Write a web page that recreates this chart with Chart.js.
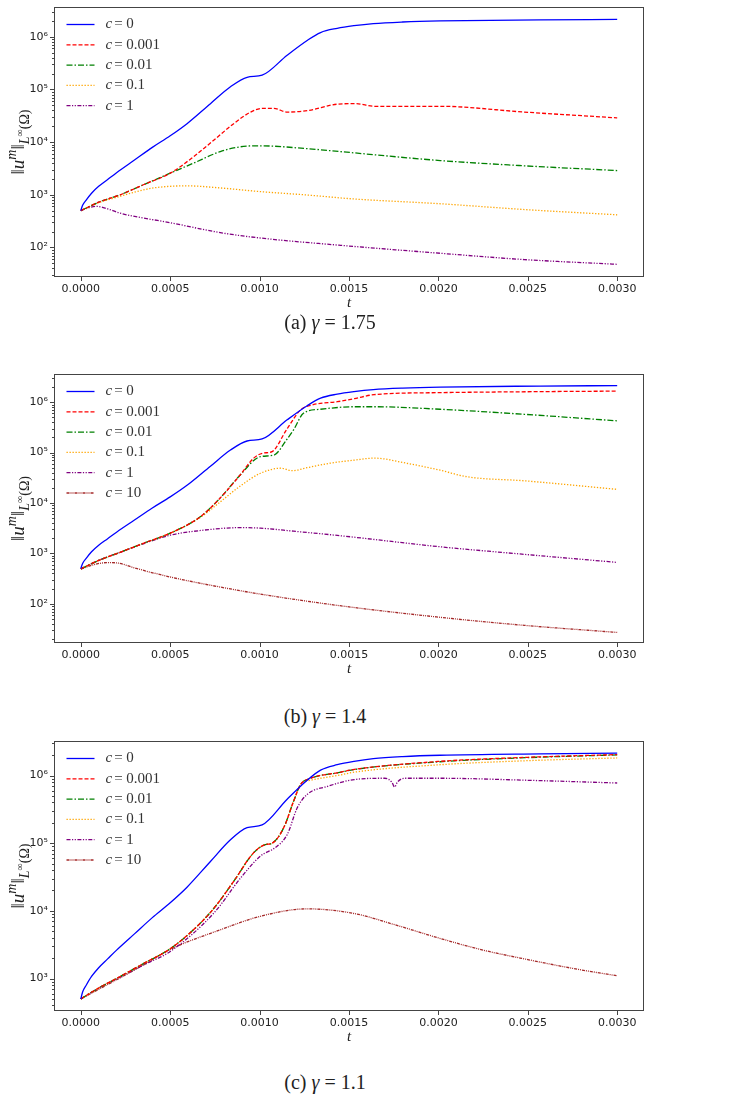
<!DOCTYPE html>
<html>
<head>
<meta charset="utf-8">
<script src="https://cdn.jsdelivr.net/npm/chart.js@4.4.0/dist/chart.umd.min.js"></script>
<style>
body { margin: 0; background: #fff; width: 743px; height: 1117px; position: relative; overflow: hidden; }
canvas { position: absolute; left: 0; }
.cap { position: absolute; font-family: "Liberation Serif", "DejaVu Serif", serif; font-size: 20px; color: #222;
       white-space: nowrap; transform: translate(-50%, -50%); }
</style>
</head>
<body>
<canvas id="chartA" width="743" height="330" style="top:-10px"></canvas>
<canvas id="chartB" width="743" height="320" style="top:360px"></canvas>
<canvas id="chartC" width="743" height="320" style="top:728px"></canvas>
<div class="cap" style="left:330px;top:322px">(a) <i>γ</i> = 1.75</div>
<div class="cap" style="left:325px;top:716px">(b) <i>γ</i> = 1.4</div>
<div class="cap" style="left:325px;top:1082px">(c) <i>γ</i> = 1.1</div>
<script>
// ---- data (t in seconds, values of ||u^m||) ----
var xTicks = [0, 0.0005, 0.001, 0.0015, 0.002, 0.0025, 0.003];
var xTickLabels = ["0.0000", "0.0005", "0.0010", "0.0015", "0.0020", "0.0025", "0.0030"];
var yTicksA = [1e2, 1e3, 1e4, 1e5, 1e6];
var yTicksB = [1e2, 1e3, 1e4, 1e5, 1e6];
var yTicksC = [1e3, 1e4, 1e5, 1e6];
var labelsA = ["0", "0.001", "0.01", "0.1", "1"];
var labelsBC = ["0", "0.001", "0.01", "0.1", "1", "10"];

// c = 0 (same in every panel)
var tBlue = [0, 0.00001, 0.00003, 0.00006, 0.0001, 0.00015, 0.0002, 0.0003, 0.0004, 0.0005, 0.000594, 0.000725, 0.000837, 0.00093, 0.001014, 0.001154, 0.001266, 0.001341, 0.001434, 0.001528, 0.001636, 0.0018, 0.00201, 0.00257, 0.003];
var blue = [500, 631, 794, 1072, 1445, 1950, 2630, 4571, 7943, 13183, 22387, 53703, 112202, 169824, 186209, 446684, 851138, 1202264, 1445440, 1621810, 1778279, 1905461, 1995262, 2089296, 2137962];

// (a) gamma = 1.75
var tRedA = [0, 0.0001, 0.00022, 0.00035, 0.0005, 0.00063, 0.000745, 0.000855, 0.00095, 0.001015, 0.00108, 0.001155, 0.00127, 0.001435, 0.00154, 0.00164, 0.00201, 0.00248, 0.003];
var redA = [500, 724, 1000, 1549, 2570, 5248, 10965, 22387, 37154, 43652, 43652, 37154, 39811, 52481, 53703, 47863, 47863, 37154, 28840];
var tGreenA = [0, 0.0001, 0.00022, 0.00035, 0.0005, 0.00063, 0.00078, 0.00089, 0.001005, 0.00125, 0.00145, 0.00201, 0.00248, 0.003];
var greenA = [500, 724, 1000, 1549, 2570, 3981, 6607, 8128, 8511, 7586, 6607, 4467, 3548, 2884];
var tOrangeA = [0, 0.0001, 0.00022, 0.0003, 0.000407, 0.000594, 0.00078, 0.001005, 0.00125, 0.00153, 0.00201, 0.00248, 0.003];
var orangeA = [500, 708, 933, 1122, 1349, 1479, 1349, 1148, 1000, 832, 676, 525, 417];
var tPurpleA = [0, 0.00005, 0.00009, 0.00015, 0.00022, 0.00035, 0.0005, 0.00078, 0.001005, 0.00145, 0.00201, 0.00248, 0.003];
var purpleA = [500, 575, 603, 540, 447, 363, 295, 191, 151, 110, 77.6, 58.9, 47.9];

// (b) gamma = 1.4
var tRedB = [0, 0.0001, 0.00022, 0.00035, 0.0005, 0.00067, 0.00078, 0.00089, 0.000967, 0.00102, 0.00107, 0.00115, 0.00123, 0.0013, 0.001435, 0.00153, 0.00164, 0.00201, 0.00257, 0.003];
var redB = [490, 724, 1047, 1585, 2512, 5370, 12589, 35481, 77625, 97724, 104713, 281838, 707946, 891251, 1023293, 1174898, 1412538, 1548817, 1621810, 1659587];
var tGreenB = [0, 0.0001, 0.00022, 0.00035, 0.0005, 0.00067, 0.00078, 0.00089, 0.001005, 0.00108, 0.00115, 0.00119, 0.001245, 0.00134, 0.00153, 0.00164, 0.00201, 0.00248, 0.003];
var greenB = [490, 724, 1047, 1585, 2512, 5370, 12589, 35481, 83176, 89125, 177828, 281838, 602560, 724436, 812831, 812831, 724436, 575440, 426580];
var tOrangeB = [0, 0.0001, 0.00022, 0.00035, 0.0005, 0.00067, 0.00078, 0.00089, 0.001005, 0.00112, 0.00118, 0.001265, 0.001395, 0.00153, 0.00164, 0.00182, 0.00201, 0.00216, 0.00248, 0.003];
var orangeB = [490, 724, 1047, 1585, 2512, 5200, 10500, 21500, 38905, 48978, 43652, 50119, 61660, 70795, 77625, 61660, 44668, 33113, 27542, 18621];
var tPurpleB = [0, 0.0001, 0.00022, 0.00035, 0.0005, 0.000687, 0.000893, 0.001005, 0.00119, 0.00145, 0.00201, 0.00248, 0.003];
var purpleB = [490, 724, 1047, 1549, 2291, 2884, 3236, 3162, 2754, 2239, 1349, 955, 661];
var tBrownB = [0, 0.00009, 0.00015, 0.0002, 0.00031, 0.0005, 0.00078, 0.001005, 0.00145, 0.00201, 0.00248, 0.003];
var brownB = [490, 617, 655, 646, 501, 339, 214, 155, 91.2, 53.7, 37.2, 26.9];

// (c) gamma = 1.1
var tRedC = [0, 0.0001, 0.00022, 0.00035, 0.0005, 0.00063, 0.000745, 0.000856, 0.000967, 0.001033, 0.00107, 0.001135, 0.00119, 0.00123, 0.001285, 0.001435, 0.00153, 0.00201, 0.0025, 0.003];
var redC = [500, 724, 1072, 1660, 2754, 5248, 10965, 27542, 72444, 95499, 100000, 169824, 416869, 741310, 912011, 1096478, 1230269, 1621810, 1862087, 2041738];
var greenC = [500, 724, 1072, 1660, 2754, 5248, 10965, 27542, 72444, 95499, 100000, 169824, 416869, 741310, 912011, 1096478, 1230269, 1600000, 1840000, 2020000];
var orangeC = [500, 724, 1072, 1660, 2754, 5248, 10965, 27542, 72444, 95499, 100000, 169824, 416869, 741310, 851138, 1000000, 1122018, 1445440, 1659587, 1819701];
var tPurpleC = [0, 0.0001, 0.00022, 0.00035, 0.0005, 0.000745, 0.000895, 0.001005, 0.00109, 0.001155, 0.00121, 0.001265, 0.00138, 0.00153, 0.0017, 0.00174, 0.001755, 0.00177, 0.00181, 0.002, 0.0025, 0.003];
var purpleC = [500, 724, 1047, 1585, 2512, 9333, 30903, 64565, 87096, 134896, 331131, 524807, 691831, 870964, 912011, 794328, 676083, 794328, 912011, 912011, 851138, 776247];
var tBrownC = [0, 0.0001, 0.00022, 0.00035, 0.0005, 0.00078, 0.001005, 0.001265, 0.00153, 0.00175, 0.002, 0.00225, 0.0025, 0.00275, 0.003];
var brownC = [500, 692, 1023, 1585, 2692, 5248, 8318, 10715, 9120, 6310, 3981, 2630, 1905, 1413, 1096];

// ---- styles ----
var styles = [
    { color: "#0000ff", dash: [] },
    { color: "#ff0000", dash: [4, 2] },
    { color: "#008000", dash: [6, 2, 1.5, 2] },
    { color: "#ffa500", dash: [1.3, 1.7] },
    { color: "#800080", dash: [4, 1.5, 1.2, 1.5, 1.2, 1.5] },
    { color: "#a52a2a", dash: [3, 1, 1, 1, 1, 1] }
];

function pts(t, v) {
    return t.map(function (x, i) { return { x: x, y: v[i] }; });
}

function makeSets(list, labels) {
    return list.map(function (d, i) {
        return {
            label: labels[i],
            data: d,
            borderColor: styles[i].color,
            borderDash: styles[i].dash,
            borderWidth: 1.3,
            pointRadius: 0,
            fill: false,
            cubicInterpolationMode: "monotone"
        };
    });
}

var SUP = "⁰¹²³⁴⁵⁶⁷⁸⁹";
var serif = '"Liberation Serif", "DejaVu Serif", serif';

// frame, ticks, legend, axis titles
var decor = {
    id: "decor",
    afterDraw: function (chart) {
        var ctx = chart.ctx, a = chart.chartArea;
        var xs = chart.scales.x, ys = chart.scales.y;
        ctx.save();
        ctx.strokeStyle = "#444";
        ctx.lineWidth = 1;
        ctx.strokeRect(Math.round(a.left) + 0.5, Math.round(a.top) + 0.5,
            Math.round(a.right - a.left) - 1, Math.round(a.bottom - a.top) - 1);

        // x ticks
        ctx.beginPath();
        xTicks.forEach(function (v) {
            var px = Math.round(xs.getPixelForValue(v)) + 0.5;
            ctx.moveTo(px, a.bottom);
            ctx.lineTo(px, a.bottom + 4);
        });
        // y ticks (major + minor)
        var lo = Math.floor(Math.log10(ys.min)), hi = Math.ceil(Math.log10(ys.max));
        for (var e = lo; e <= hi; e++) {
            for (var k = 1; k <= 9; k++) {
                var v = k * Math.pow(10, e);
                if (v < ys.min || v > ys.max) continue;
                var py = Math.round(ys.getPixelForValue(v)) + 0.5;
                ctx.moveTo(a.left, py);
                ctx.lineTo(a.left - (k === 1 ? 4 : 2), py);
            }
        }
        ctx.stroke();

        // legend
        var sets = chart.data.datasets;
        sets.forEach(function (ds, i) {
            var y = a.top + 17.5 + i * 20.3;
            ctx.save();
            ctx.strokeStyle = ds.borderColor;
            ctx.lineWidth = 1.3;
            ctx.setLineDash(ds.borderDash);
            ctx.beginPath();
            ctx.moveTo(a.left + 12.5, y);
            ctx.lineTo(a.left + 40.5, y);
            ctx.stroke();
            ctx.restore();
            ctx.fillStyle = "#333";
            ctx.textBaseline = "middle";
            ctx.textAlign = "left";
            var x = a.left + 51.5;
            ctx.font = "italic 15px " + serif;
            ctx.fillText("c", x, y);
            x += ctx.measureText("c").width + 2;
            ctx.font = "15px " + serif;
            ctx.fillText("= " + ds.label, x, y);
        });

        // x title
        ctx.fillStyle = "#222";
        ctx.font = "italic 15px " + serif;
        ctx.textAlign = "center";
        ctx.textBaseline = "middle";
        ctx.fillText("t", (a.left + a.right) / 2, a.bottom + 26);

        // y title ||u^m||_{L^inf(Omega)}
        var parts = [
            { t: "‖", f: "19px " + serif, dy: 0 },
            { t: "u", f: "italic 19px " + serif, dy: 0 },
            { t: "m", f: "italic 14px " + serif, dy: -8 },
            { t: "‖", f: "19px " + serif, dy: 0 },
            { t: "L", f: "italic 14px " + serif, dy: 5 },
            { t: "∞", f: "10px " + serif, dy: -1 },
            { t: "(Ω)", f: "14px " + serif, dy: 5 }
        ];
        var total = 0;
        parts.forEach(function (p) { ctx.font = p.f; p.w = ctx.measureText(p.t).width; total += p.w; });
        ctx.save();
        ctx.translate(18, (a.top + a.bottom) / 2);
        ctx.rotate(-Math.PI / 2);
        ctx.textAlign = "left";
        ctx.textBaseline = "alphabetic";
        var cx = -total / 2;
        parts.forEach(function (p) {
            ctx.font = p.f;
            ctx.fillText(p.t, cx, 6 + p.dy);
            cx += p.w;
        });
        ctx.restore();
        ctx.restore();
    }
};

function makeChart(id, sets, yMin, yMax, yTicks, padTop, xHeight) {
    var ctx = document.getElementById(id).getContext("2d");
    return new Chart(ctx, {
        type: "line",
        data: { datasets: sets },
        options: {
            responsive: false,
            animation: false,
            devicePixelRatio: 1,
            layout: { padding: { top: padTop, right: 99, left: 0, bottom: 0 } },
            plugins: { legend: { display: false }, tooltip: { enabled: false } },
            scales: {
                x: {
                    type: "linear",
                    min: -0.00015,
                    max: 0.00315,
                    grid: { display: false, drawTicks: false },
                    border: { display: false },
                    afterBuildTicks: function (s) { s.ticks = xTicks.map(function (v) { return { value: v }; }); },
                    afterFit: function (s) { s.height = xHeight; },
                    ticks: {
                        autoSkip: false,
                        maxRotation: 0,
                        padding: 6,
                        color: "#222",
                        font: { family: "DejaVu Sans", size: 11 },
                        callback: function (v) { return xTickLabels[xTicks.indexOf(v)]; }
                    }
                },
                y: {
                    type: "logarithmic",
                    min: yMin,
                    max: yMax,
                    grid: { display: false, drawTicks: false },
                    border: { display: false },
                    afterBuildTicks: function (s) { s.ticks = yTicks.map(function (v) { return { value: v }; }); },
                    afterFit: function (s) { s.width = 54; },
                    ticks: {
                        autoSkip: false,
                        padding: 6,
                        color: "#222",
                        font: { family: "DejaVu Sans", size: 11 },
                        callback: function (v) {
                            var e = Math.round(Math.log10(v));
                            return "10" + String(e).split("").map(function (d) { return SUP[+d]; }).join("");
                        }
                    }
                }
            }
        },
        plugins: [decor]
    });
}

makeChart("chartA", makeSets([
    pts(tBlue, blue), pts(tRedA, redA), pts(tGreenA, greenA), pts(tOrangeA, orangeA), pts(tPurpleA, purpleA)
], labelsA), 27.5, 3.67e6, yTicksA, 17, 43);

makeChart("chartB", makeSets([
    pts(tBlue, blue), pts(tRedB, redB), pts(tGreenB, greenB), pts(tOrangeB, orangeB), pts(tPurpleB, purpleB), pts(tBrownB, brownB)
], labelsBC), 16.6, 3.63e6, yTicksB, 14, 37);

makeChart("chartC", makeSets([
    pts(tBlue, blue), pts(tRedC, redC), pts(tRedC, greenC), pts(tRedC, orangeC), pts(tPurpleC, purpleC), pts(tBrownC, brownC)
], labelsBC), 331, 3.24e6, yTicksC, 13, 37);
</script>
</body>
</html>
